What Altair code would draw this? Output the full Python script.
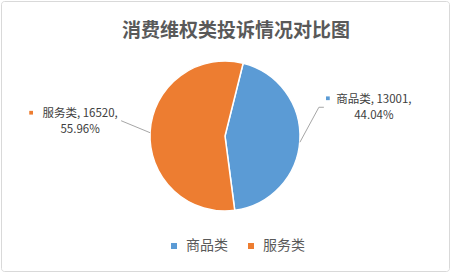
import math
import altair as alt
import pandas as pd

# Complaint counts by category
categories = ["商品类", "服务类"]
counts = [13001, 16520]
shares = ["44.04%", "55.96%"]

BLUE, ORANGE = "#5B9BD5", "#ED7D31"
FONT = "Noto Sans CJK SC"
W, H = 448, 270
CX, CY = W / 2, H / 2
R = 75
START = math.radians(14)

df = pd.DataFrame({"cat": categories, "n": counts, "pct": shares, "order": range(len(categories))})
df["line1"] = df["cat"] + ", " + df["n"].astype(str) + ","

color_scale = alt.Scale(domain=categories, range=[BLUE, ORANGE])
base = alt.Chart(df)

pie = base.mark_arc(outerRadius=R, stroke="white", strokeWidth=1.5).encode(
    theta=alt.Theta("n:Q", stack=True, scale=alt.Scale(range=[START, START + 2 * math.pi])),
    color=alt.Color(
        "cat:N",
        scale=color_scale,
        sort=categories,
        legend=alt.Legend(
            title=None, orient="none", direction="horizontal",
            legendX=166, legendY=238,
            symbolType="square", symbolSize=36, symbolStrokeWidth=0,
            labelFont=FONT, labelFontSize=14, labelColor="#595959",
            labelOffset=5, columnPadding=16,
        ),
    ),
    order=alt.Order("order:Q"),
)

# Edge point of each slice at its mid angle, used to anchor the callouts
geo = (
    base.transform_joinaggregate(total="sum(n)")
    .transform_window(cum="sum(n)", sort=[alt.SortField("order")])
    .transform_calculate(mid=f"{START} + 2*PI*(datum.cum - datum.n/2)/datum.total")
    .transform_calculate(ex=f"{CX} + {R}*sin(datum.mid)", ey=f"{CY} - {R}*cos(datum.mid)")
)


def px(field):
    return alt.X(f"{field}:Q", scale=None, axis=None)


def py(field):
    return alt.Y(f"{field}:Q", scale=None, axis=None)


def callout(cat, pts, text_off, marker_off):
    g = geo.transform_filter(alt.datum.cat == cat)
    layers = []
    for (ax, ay), (bx, by) in zip(pts[:-1], pts[1:]):
        layers.append(
            g.transform_calculate(
                x1=f"datum.ex + ({ax})", y1=f"datum.ey + ({ay})",
                x2=f"datum.ex + ({bx})", y2=f"datum.ey + ({by})",
            )
            .mark_rule(color="#A6A6A6", strokeWidth=1)
            .encode(x=px("x1"), y=py("y1"), x2="x2:Q", y2="y2:Q")
        )
    layers.append(
        g.transform_calculate(mx=f"datum.ex + ({marker_off[0]})", my=f"datum.ey + ({marker_off[1]})")
        .mark_square(size=14, opacity=1)
        .encode(x=px("mx"), y=py("my"), color=alt.Color("cat:N", scale=color_scale, legend=None))
    )
    # two-line label: "name, count," over the percentage
    for field, dy in (("line1", -8), ("pct", 8)):
        layers.append(
            g.transform_calculate(tx=f"datum.ex + ({text_off[0]})", ty=f"datum.ey + ({text_off[1]})")
            .mark_text(align="center", baseline="middle", fontSize=11.5, dy=dy,
                       color="#404040", font=FONT)
            .encode(x=px("tx"), y=py("ty"), text=f"{field}:N")
        )
    return layers


right = callout("商品类", [(0, 2), (19, -33), (24, -33)], (74, -32), (28, -42))
left = callout("服务类", [(0, 1), (-29, -11)], (-70, -10), (-119, -19))

chart = (
    alt.layer(pie, *right, *left)
    .properties(
        width=W, height=H,
        title=alt.TitleParams(
            "消费维权类投诉情况对比图", font=FONT, fontSize=19, fontWeight="bold",
            color="#595959", anchor="middle", offset=-40, dx=11,
        ),
        autosize=alt.AutoSizeParams(type="none"),
        padding={"left": 1, "top": 1, "right": 1, "bottom": 2},
    )
    .configure_view(stroke="#D9D9D9", strokeWidth=1, cornerRadius=3)
)

chart.save("out.html", embed_options={"renderer": "svg", "actions": False})
